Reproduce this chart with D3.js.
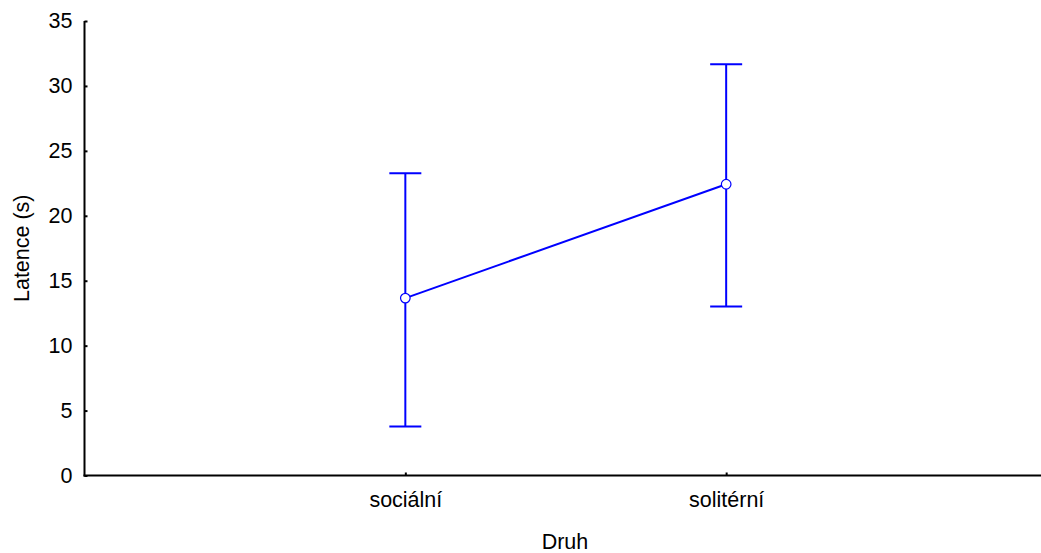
<!DOCTYPE html>
<html>
<head>
<meta charset="utf-8">
<script src="https://cdn.jsdelivr.net/npm/d3@7"></script>
<style>
  html, body { margin: 0; padding: 0; background: #fff; }
  svg { display: block; }
  text { font-family: "Liberation Sans", Arial, sans-serif; }
</style>
</head>
<body>
<svg id="chart" width="1041" height="553"></svg>
<script>
const categories = ["sociální", "solitérní"];
const means = [13.66, 22.43];
const upper = [23.28, 31.67];
const lower = [3.77, 13.01];
const yTicks = [0, 5, 10, 15, 20, 25, 30, 35];
const xTitle = "Druh";
const yTitle = "Latence (s)";

const W = 1041, H = 553;
const x0 = 84.5, yTop = 21, yBot = 475.5;
const svg = d3.select("#chart");
const FS = 21.5;

const x = d3.scalePoint().domain(categories).range([x0, 1047]).padding(1);
const y = d3.scaleLinear().domain([0, 35]).range([yBot, yTop]);

// Y axis
const gy = svg.append("g").attr("transform", `translate(${x0},0)`)
  .call(d3.axisLeft(y).tickValues(yTicks).tickSize(-3).tickPadding(12).tickSizeOuter(0));
gy.select(".domain").remove();
gy.selectAll(".tick line").attr("stroke", "#000").attr("stroke-width", 2);
gy.selectAll(".tick text").attr("font-size", FS).attr("font-family", "Liberation Sans, Arial, sans-serif").attr("fill", "#000");

// X axis
const gx = svg.append("g").attr("transform", `translate(0,${yBot})`)
  .call(d3.axisBottom(x).tickSize(-3).tickPadding(16.5).tickSizeOuter(0));
gx.select(".domain").remove();
gx.selectAll(".tick line").attr("stroke", "#000").attr("stroke-width", 2);
gx.selectAll(".tick text").attr("font-size", FS).attr("font-family", "Liberation Sans, Arial, sans-serif").attr("fill", "#000");

// axis lines
svg.append("line").attr("x1", x0).attr("x2", x0).attr("y1", yTop).attr("y2", yBot + 1)
  .attr("stroke", "#000").attr("stroke-width", 2);
svg.append("line").attr("x1", x0 - 1).attr("x2", W).attr("y1", yBot).attr("y2", yBot)
  .attr("stroke", "#000").attr("stroke-width", 2);

// titles
svg.append("text").attr("x", 565).attr("y", 548.5).attr("text-anchor", "middle")
  .attr("font-size", FS).attr("fill", "#000").text(xTitle);
svg.append("text").attr("transform", `translate(29,${(yTop + yBot) / 2}) rotate(-90)`)
  .attr("text-anchor", "middle").attr("font-size", FS).attr("fill", "#000").text(yTitle);

const blue = "#0000ff";
const data = categories.map((c, i) => ({ c, m: means[i], u: upper[i], l: lower[i] }));

// error bars
const eb = svg.append("g").attr("stroke", blue).attr("stroke-width", 2).attr("fill", "none");
data.forEach(d => {
  const cx = x(d.c);
  eb.append("line").attr("x1", cx).attr("x2", cx).attr("y1", y(d.u)).attr("y2", y(d.l));
  eb.append("line").attr("x1", cx - 16).attr("x2", cx + 16).attr("y1", y(d.u)).attr("y2", y(d.u));
  eb.append("line").attr("x1", cx - 16).attr("x2", cx + 16).attr("y1", y(d.l)).attr("y2", y(d.l));
});

// connecting line
svg.append("path").datum(data)
  .attr("d", d3.line().x(d => x(d.c)).y(d => y(d.m)))
  .attr("fill", "none").attr("stroke", blue).attr("stroke-width", 2);

// markers
svg.append("g").selectAll("circle").data(data).join("circle")
  .attr("cx", d => x(d.c)).attr("cy", d => y(d.m)).attr("r", 4.8)
  .attr("fill", "#fff").attr("stroke", blue).attr("stroke-width", 1.2);
</script>
</body>
</html>
